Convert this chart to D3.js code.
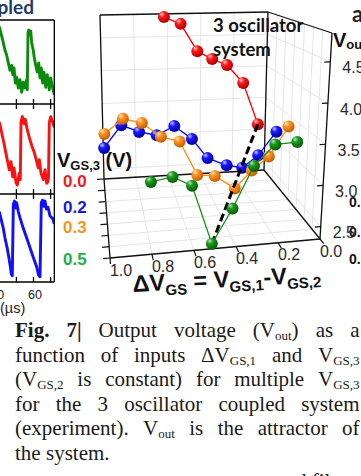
<!DOCTYPE html>
<html><head><meta charset="utf-8">
<script src="https://cdn.jsdelivr.net/npm/d3@7"></script>
<style>body{margin:0;background:#fff;overflow:hidden}svg{display:block}</style>
</head><body>
<svg id="c" width="361" height="476"></svg>
<script>
// ================= DATA =================
// 3D plot: Vout vs ΔVGS for several VGS,3
const vgs3Values = [0.0, 0.2, 0.3, 0.5];
const vgs3Labels = ["0.0", "0.2", "0.3", "0.5"];
const dvRed    = [0.62, 0.52, 0.42, 0.33, 0.24, 0.14, 0.045];
const voutRed  = [4.80, 4.69, 4.26, 4.13, 4.03, 3.74, 3.08];
const dvBlue   = [1.0, 0.9, 0.8, 0.7, 0.6, 0.5, 0.41, 0.3, 0.21, 0.12, 0.02];
const voutBlue = [3.07, 3.38, 3.27, 3.21, 3.33, 3.13, 2.84, 2.72, 2.67, 2.84, 3.17];
const dvOrange   = [1.0, 0.9, 0.8, 0.7, 0.6, 0.505, 0.41, 0.3, 0.21, 0.12, 0.02];
const voutOrange = [3.43, 3.62, 3.55, 3.35, 3.27, 2.80, 2.77, 2.58, 2.81, 2.99, 3.39];
const dvGreen   = [0.80, 0.70, 0.61, 0.515, 0.42, 0.325, 0.23, 0.13];
const voutGreen = [3.20, 3.24, 3.12, 2.41, 2.81, 3.30, 3.54, 3.55];
const dvTicks = [1.0, 0.8, 0.6, 0.4, 0.2, 0.0];
const dvTickLabels = ["1.0", "0.8", "0.6", "0.4", "0.2", "0.0"];
const voutTicks = [2.5, 3.0, 3.5, 4.0, 4.5];
const voutTickLabels = ["2.5", "3.0", "3.5", "4.0", "4.5"];

// Left panel: oscillator waveforms (time in µs, normalised amplitude)
const timeGreen = [0,6.0,10.0,13.0,15.8,18.8,21.8,23.5,25.8,28.1,30.5,33.3,36.3,39.3,42.1,45.1,48.1,49.1,50.4,51.6,53.3,55.1,56.8,59.6,61.4,63.9,66.7,69.1,71.4,73.7,76.1,78.4,81.4,84.2,87.7,90.2,93.7,96.5];
const ampGreen  = [0.92,0.76,0.64,0.58,0.49,0.40,0.46,0.35,0.43,0.25,0.32,0.19,0.29,0.14,0.26,0.19,0.29,0.17,0.85,0.88,0.83,0.87,0.73,0.64,0.55,0.46,0.38,0.49,0.31,0.43,0.25,0.38,0.20,0.35,0.17,0.31,0.19,0.11];
const timeRed = [0,7.0,13.0,17.5,20.5,23.5,25.8,29.3,31.6,35.1,36.8,38.1,40.4,43.3,45.6,48.1,52.6,56.8,61.4,65.6,68.4,70.2,73.2,77.2,80.2,83.2,84.9,86.3,87.7,90.2,93.7,96.5];
const ampRed  = [0.80,0.60,0.41,0.27,0.36,0.19,0.29,0.13,0.10,0.23,0.16,0.80,0.86,0.78,0.83,0.74,0.63,0.54,0.46,0.36,0.29,0.38,0.23,0.16,0.27,0.12,0.13,0.18,0.79,0.86,0.80,0.74];
const timeBlue = [0,7.0,10.0,14.0,17.0,19.3,21.1,22.8,24.6,26.7,28.8,30.5,33.3,36.3,42.1,48.1,53.9,59.6,65.6,68.8,71.4,73.7,75.8,77.9,80.2,82.5,85.4,89.0,93.7,96.5];
const ampBlue  = [0.80,0.61,0.50,0.38,0.27,0.18,0.09,0.07,0.88,0.92,0.84,0.90,0.80,0.73,0.61,0.50,0.39,0.28,0.17,0.08,0.06,0.90,0.93,0.86,0.92,0.83,0.85,0.75,0.72,0.66];
const timeTicks = [30, 60, 90];
const timeTickLabels = [0, 60];

// ================= SETUP =================
const svg = d3.select("#c");
const defs = svg.append("defs");
const SANS = "'Liberation Sans', Arial, sans-serif";
const SERIF = "'Liberation Serif', 'Times New Roman', serif";
const CAL = "Lato, 'Open Sans', sans-serif";

// ---------- Left panel ----------
const xTime = d3.scaleLinear().domain([0, 60]).range([-0.7, 33.5]);
const panels = [
  {t: timeGreen, a: ampGreen, col: "#0b8a0b", top: 20, bot: 104, topTicks: false},
  {t: timeRed,   a: ampRed,   col: "#ff1010", top: 104, bot: 194, topTicks: true},
  {t: timeBlue,  a: ampBlue,  col: "#1010ff", top: 194, bot: 282, topTicks: true}
];
const lp = svg.append("g");
panels.forEach((p, i) => {
  const y = d3.scaleLinear().domain([0, 1]).range([p.bot, p.top]);
  defs.append("clipPath").attr("id", "cp" + i).append("rect")
    .attr("x", -10).attr("y", p.top).attr("width", 64).attr("height", p.bot - p.top);
  lp.append("path")
    .attr("clip-path", "url(#cp" + i + ")")
    .attr("d", d3.line().x((d, k) => xTime(p.t[k])).y((d, k) => y(p.a[k]))(p.t))
    .attr("fill", "none").attr("stroke", p.col).attr("stroke-width", 2.9)
    .attr("stroke-linejoin", "round");
  timeTicks.forEach(tv => {
    const x = xTime(tv);
    lp.append("line").attr("x1", x).attr("x2", x).attr("y1", p.bot).attr("y2", p.bot - 5)
      .attr("stroke", "#000").attr("stroke-width", 1.3);
    if (p.topTicks) lp.append("line").attr("x1", x).attr("x2", x).attr("y1", p.top).attr("y2", p.top + 5)
      .attr("stroke", "#000").attr("stroke-width", 1.3);
  });
});
const boxRight = 54.3;
[20, 104, 194, 282].forEach(yy => lp.append("line").attr("x1", -5).attr("x2", boxRight)
  .attr("y1", yy).attr("y2", yy).attr("stroke", "#000").attr("stroke-width", 1.3));
lp.append("line").attr("x1", boxRight).attr("x2", boxRight).attr("y1", 20).attr("y2", 282)
  .attr("stroke", "#000").attr("stroke-width", 1.3);
timeTickLabels.forEach(tv => lp.append("text").attr("x", xTime(tv) + 1.5).attr("y", 299)
  .attr("text-anchor", "middle").attr("font-family", SANS).attr("font-size", 12.5)
  .attr("fill", "#222").text(tv));
lp.append("text").attr("x", 0).attr("y", 313).attr("font-family", SANS).attr("font-size", 14.5)
  .attr("fill", "#222").text("(µs)");
svg.append("text").attr("x", 34).attr("y", 14).attr("text-anchor", "end")
  .attr("font-family", CAL).attr("font-weight", "bold").attr("font-size", 19)
  .attr("fill", "#1f3864").text("Coupled");

// ---------- 3D plot ----------
const C = {
  b00: [104, 179], b10: [264, 170], b01: [110, 258], b11: [320, 239],
  t00: [100, 15],  t10: [268, 12],  t01: [103, 44],  t11: [332, 33]
};
const lerp = (a, b, k) => [a[0] + (b[0] - a[0]) * k, a[1] + (b[1] - a[1]) * k];
function P(u, t, w) {
  const fl = lerp(lerp(C.b00, C.b10, u), lerp(C.b01, C.b11, u), t);
  const tp = lerp(lerp(C.t00, C.t10, u), lerp(C.t01, C.t11, u), t);
  return lerp(fl, tp, w);
}
const uScale = d3.scaleLinear().domain([1, 0]).range([0, 1]);
const tScale = d3.scaleLinear().domain([0, 0.2, 0.3, 0.5]).range([0, 0.25, 0.45, 1]);
const wScale = d3.scaleLinear().domain([2.35, 4.85]).range([0, 1]);
const proj = (dv, vg, vo) => P(uScale(dv), tScale(vg), wScale(vo));
const depthTicks = d3.range(8).map(i => i / 7);

const g3 = svg.append("g");
const seg = (a, b, col, sw) => g3.append("line").attr("x1", a[0]).attr("y1", a[1])
  .attr("x2", b[0]).attr("y2", b[1]).attr("stroke", col).attr("stroke-width", sw);
const GRID = "#e2e2e2";
dvTicks.forEach(d => { const u = uScale(d); seg(P(u, 0, 0), P(u, 0, 1), GRID, 0.9); });
voutTicks.forEach(v => { const w = wScale(v); seg(P(0, 0, w), P(1, 0, w), GRID, 0.9); });
dvTicks.forEach(d => { const u = uScale(d); seg(P(u, 0, 0), P(u, 1, 0), GRID, 0.9); });
depthTicks.forEach(t => seg(P(0, t, 0), P(1, t, 0), GRID, 0.9));
depthTicks.forEach(t => seg(P(1, t, 0), P(1, t, 1), GRID, 0.9));
voutTicks.forEach(v => { const w = wScale(v); seg(P(1, 0, w), P(1, 1, w), GRID, 0.9); });
const E = "#111";
[[P(0,0,0),P(1,0,0)],[P(1,0,0),P(1,1,0)],[P(0,1,0),P(1,1,0)],[P(0,0,0),P(0,1,0)],
 [P(0,0,0),P(0,0,1)],[P(0,0,1),P(1,0,1)],[P(1,0,0),P(1,0,1)],[P(1,0,1),P(1,1,1)],[P(1,1,0),P(1,1,1)]]
 .forEach(e => seg(e[0], e[1], E, 1.3));

dvTicks.forEach((d, i) => {
  const u = uScale(d);
  const a = P(u, 1, 0), b0 = P(u, 0, 0);
  const dx = a[0] - b0[0], dy = a[1] - b0[1], L = Math.hypot(dx, dy);
  seg(a, [a[0] + dx / L * 6, a[1] + dy / L * 6], E, 1.2);
  g3.append("text").attr("x", a[0] + 11).attr("y", a[1] + 12).attr("dy", "0.35em")
    .attr("text-anchor", "middle").attr("font-family", SANS).attr("font-size", 16)
    .attr("fill", "#2a2a2a").text(dvTickLabels[i]);
});
depthTicks.forEach(t => {
  const a = P(0, t, 0), b = P(1, t, 0);
  const dx = a[0] - b[0], dy = a[1] - b[1], L = Math.hypot(dx, dy);
  seg(a, [a[0] + dx / L * 7, a[1] + dy / L * 7], E, 1.2);
});
voutTicks.forEach((v, i) => {
  const w = wScale(v);
  const a = P(1, 1, w), b = P(0, 1, w);
  const dx = b[0] - a[0], dy = b[1] - a[1], L = Math.hypot(dx, dy);
  seg(a, [a[0] + dx / L * 6, a[1] + dy / L * 6], E, 1.2);
  g3.append("text").attr("x", a[0] + 12).attr("y", a[1] + 6).attr("dy", "0.35em")
    .attr("font-family", SANS).attr("font-size", 16).attr("fill", "#2a2a2a").text(voutTickLabels[i]);
});

// ---------- series ----------
const series = [
  {dv: dvRed,    vo: voutRed,    vg: vgs3Values[0], line: "#ff0000", c: ["#ffd0d0", "#ff1a1a", "#a80000"]},
  {dv: dvBlue,   vo: voutBlue,   vg: vgs3Values[1], line: "#0000ff", c: ["#c8c8ff", "#1a1aff", "#00009a"]},
  {dv: dvOrange, vo: voutOrange, vg: vgs3Values[2], line: "#ff8a14", c: ["#ffe6c0", "#ff9426", "#c05c00"]},
  {dv: dvGreen,  vo: voutGreen,  vg: vgs3Values[3], line: "#178c17", c: ["#b8e6b8", "#1c9a1c", "#085808"]}
];
series.forEach((s, i) => {
  const gr = defs.append("radialGradient").attr("id", "ball" + i)
    .attr("cx", "38%").attr("cy", "32%").attr("r", "70%").attr("fx", "32%").attr("fy", "26%");
  gr.append("stop").attr("offset", "0%").attr("stop-color", s.c[0]);
  gr.append("stop").attr("offset", "35%").attr("stop-color", s.c[1]);
  gr.append("stop").attr("offset", "100%").attr("stop-color", s.c[2]);
});
const drawSeries = (s, i) => {
  const pts = s.dv.map((d, k) => proj(d, s.vg, s.vo[k]));
  g3.append("path").attr("d", d3.line()(pts)).attr("fill", "none")
    .attr("stroke", s.line).attr("stroke-width", 1.3);
  g3.selectAll(null).data(pts).enter().append("circle")
    .attr("cx", p => p[0]).attr("cy", p => p[1]).attr("r", 6)
    .attr("fill", "url(#ball" + i + ")");
};
drawSeries(series[0], 0);
drawSeries(series[1], 1);
drawSeries(series[2], 2);
const rl = dvRed.length - 1, gi = d3.minIndex(voutGreen);
const pA = proj(dvRed[rl], vgs3Values[0], voutRed[rl]);
const pB = proj(dvGreen[gi], vgs3Values[3], voutGreen[gi]);
g3.append("line").attr("x1", pA[0]).attr("y1", pA[1]).attr("x2", pB[0]).attr("y2", pB[1])
  .attr("stroke", "#000").attr("stroke-width", 3).attr("stroke-dasharray", "8,4");
drawSeries(series[3], 3);

// ---------- labels on plot ----------
const lab = svg.append("g").attr("font-family", SANS).attr("font-weight", "bold");
const vLabScale = d3.scaleLinear().domain([0, 0.2, 0.3, 0.5]).range([187, 213, 233, 265]);
const labCols = ["#f21c1c", "#1818e0", "#f7941d", "#22b04b"];
vgs3Values.forEach((v, i) => lab.append("text").attr("x", 63).attr("y", vLabScale(v))
  .attr("font-size", 17).attr("fill", labCols[i]).text(vgs3Labels[i]));
const vg = lab.append("text").attr("x", 57).attr("y", 167).attr("fill", "#111").attr("font-size", 20);
vg.append("tspan").text("V");
vg.append("tspan").attr("font-size", 13).attr("dy", 3).text("GS,3");
vg.append("tspan").attr("dy", -3).text(" (V)");
const vo = lab.append("text").attr("x", 333).attr("y", 47).attr("fill", "#111").attr("font-size", 20);
vo.append("tspan").text("V");
vo.append("tspan").attr("font-size", 13).attr("dy", 2).text("out");
lab.append("text").attr("x", 352).attr("y", 22).attr("font-family", CAL).attr("font-size", 22)
  .attr("fill", "#222").text("a");
[["0.", 207], ["0.", 237], ["0.", 264]].forEach(d => lab.append("text").attr("x", 349).attr("y", d[1])
  .attr("font-size", 14).attr("fill", "#111").text(d[0]));
svg.append("text").attr("x", 213).attr("y", 32).attr("font-family", CAL).attr("font-weight", "bold")
  .attr("font-size", 18.5).attr("fill", "#111").text("3 oscillator");
svg.append("text").attr("x", 213).attr("y", 56).attr("font-family", CAL).attr("font-weight", "bold")
  .attr("font-size", 18.5).attr("fill", "#111").text("system");
const ax = lab.append("text").attr("transform", "translate(133,292) rotate(-3)").attr("fill", "#111");
[["ΔV", 23.5, 0], ["GS", 15, 5], [" = V", 23.5, -5], ["GS,1", 15, 5], ["-V", 23.5, -5], ["GS,2", 15, 5]]
  .forEach(p => ax.append("tspan").attr("font-size", p[1]).attr("dy", p[2]).text(p[0]));

// ---------- caption ----------
const capLines = [
  [[["Fig.", "b"]], [["7|", "b"]], [["Output"]], [["voltage"]], [["(V"], ["out", "s"], [")"]], [["as"]], [["a"]]],
  [[["function"]], [["of"]], [["inputs"]], [["ΔV"], ["GS,1", "s"]], [["and"]], [["V"], ["GS,3", "s"]]],
  [[["(V"], ["GS,2", "s"]], [["is"]], [["constant)"]], [["for"]], [["multiple"]], [["V"], ["GS,3", "s"]]],
  [[["for"]], [["the"]], [["3"]], [["oscillator"]], [["coupled"]], [["system"]]],
  [[["(experiment)."]], [["V"], ["out", "s"]], [["is"]], [["the"]], [["attractor"]], [["of"]]],
  [[["the"]], [["system."]]]
];
const cap = svg.append("g").attr("font-family", SERIF).attr("font-size", 21).attr("fill", "#1a1a1a");
const X0 = 15, X1 = 359.5;
capLines.forEach((line, li) => {
  const y = 337 + li * 24.6;
  const nodes = line.map(word => {
    const t = cap.append("text").attr("y", y);
    let shifted = false;
    word.forEach(sg => {
      const sp = t.append("tspan").text(sg[0]);
      if (sg[1] === "b") sp.attr("font-weight", "bold");
      if (sg[1] === "s") { sp.attr("font-size", 13).attr("dy", 3); shifted = true; }
      else if (shifted) { sp.attr("dy", -3); shifted = false; }
    });
    return t;
  });
  const widths = nodes.map(n => n.node().getComputedTextLength());
  const last = li === capLines.length - 1;
  const gap = last ? 5.3 : (X1 - X0 - d3.sum(widths)) / (nodes.length - 1);
  let x = X0;
  nodes.forEach((n, k) => { n.attr("x", x); x += widths[k] + gap; });
});
cap.append("text").attr("x", 296).attr("y", 487.5).text("d  fil");
</script>
</body></html>
